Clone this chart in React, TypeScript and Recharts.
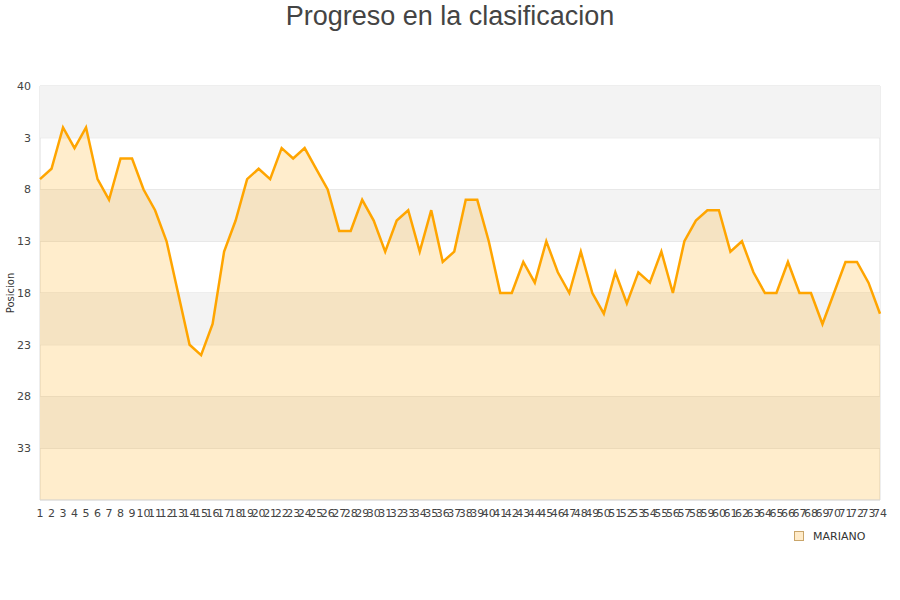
import { ComposedChart, Area, XAxis, YAxis, CartesianGrid, ReferenceArea, Legend } from 'recharts';

const jornadas = Array.from({ length: 74 }, (_, i) => String(i + 1));

const posiciones = [
  7, 6, 2, 4, 2, 7, 9, 5, 5, 8,
  10, 13, 18, 23, 24, 21, 14, 11, 7, 6,
  7, 4, 5, 4, 6, 8, 12, 12, 9, 11,
  14, 11, 10, 14, 10, 15, 14, 9, 9, 13,
  18, 18, 15, 17, 13, 16, 18, 14, 18, 20,
  16, 19, 16, 17, 14, 18, 13, 11, 10, 10,
  14, 13, 16, 18, 18, 15, 18, 18, 21, 18,
  15, 15, 17, 20,
];

const yTicks = [-2, 3, 8, 13, 18, 23, 28, 33];
const bandas = [[-2, 3], [8, 13], [18, 23], [28, 33]];

const data = jornadas.map((j, i) => ({ jornada: j, pos: posiciones[i] }));

const font = '"DejaVu Sans", sans-serif';

function LegendBox() {
  return (
    <div style={{ display: 'flex', alignItems: 'center', fontFamily: font, fontSize: 11, color: '#333', height: 14 }}>
      <span style={{ width: 8, height: 8, background: '#FFEBC9', border: '1px solid #c9a56a', marginRight: 9 }} />
      MARIANO
    </div>
  );
}

export default function App() {
  return (
    <div style={{ position: 'absolute', left: 0, top: 0, width: 900, height: 600, background: '#fff' }}>
      <div style={{ position: 'absolute', top: 0, left: 0, width: 900, textAlign: 'center', fontFamily: '"Liberation Sans", Arial, sans-serif', fontSize: 27, color: '#444', lineHeight: '32px' }}>
        Progreso en la clasificacion
      </div>
      <ComposedChart width={900} height={600} data={data} margin={{ top: 86, right: 20, bottom: 56, left: 0 }}>
        {bandas.map(([a, b]) => (
          <ReferenceArea key={a} y1={a} y2={b} fill="#f3f3f3" fillOpacity={1} stroke="none" />
        ))}
        <CartesianGrid vertical={true} verticalPoints={[40, 880]} stroke="#dddddd" strokeDasharray="" />
        <XAxis
          dataKey="jornada"
          interval={0}
          tickLine={false}
          axisLine={{ stroke: '#dddddd' }}
          tickSize={0}
          tickMargin={9}
          height={30}
          tick={{ fontFamily: font, fontSize: 11, fill: '#444' }}
        />
        <YAxis
          reversed
          domain={[-2, 38]}
          ticks={yTicks}
          interval={0}
          width={40}
          tickLine={false}
          axisLine={false}
          tickSize={0}
          tickMargin={9}
          tickFormatter={(v: number) => (v === -2 ? '40' : String(v))}
          tick={{ fontFamily: font, fontSize: 11, fill: '#444' }}
          label={{ value: 'Posicion', angle: -90, position: 'insideLeft', offset: 10, style: { fontFamily: font, fontSize: 10, fill: '#333', textAnchor: 'middle' } }}
        />
        <Area
          type="linear"
          dataKey="pos"
          name="MARIANO"
          baseValue={38}
          stroke="#FFA500"
          strokeWidth={2.5}
          fill="#FFA500"
          fillOpacity={0.2}
          dot={false}
          activeDot={false}
          isAnimationActive={false}
        />
        <Legend content={() => <LegendBox />} wrapperStyle={{ position: 'absolute', left: 794, top: 529, width: 100 }} />
      </ComposedChart>
    </div>
  );
}
